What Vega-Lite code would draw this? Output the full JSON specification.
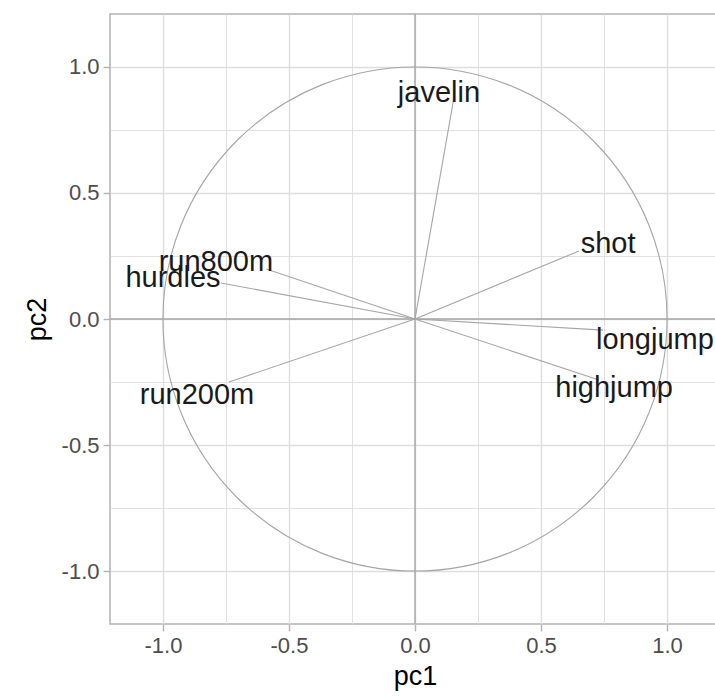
{
  "$schema": "https://vega.github.io/schema/vega-lite/v6.json",
  "width": 610,
  "height": 610,
  "autosize": {"type": "none"},
  "padding": {"left": 110, "top": 14, "right": 0, "bottom": 76},
  "background": "white",
  "config": {
    "view": {"stroke": "#b3b3b3", "strokeWidth": 1.5},
    "font": "Liberation Sans",
    "axis": {
      "domain": false,
      "grid": true,
      "gridColor": "#dedede",
      "gridWidth": {"condition": {"test": "abs(datum.value*4)%2==1", "value": 0.9}, "value": 1.4},
      "tickOpacity": {"condition": {"test": "abs(datum.value*4)%2==1", "value": 0}, "value": 1},
      "tickColor": "#b3b3b3",
      "tickWidth": 1.4,
      "tickSize": 7,
      "labelFont": "Liberation Sans",
      "labelFontSize": 22,
      "labelColor": "#4d4d4d",
      "labelPadding": 4,
      "labelFlush": false,
      "labelOverlap": false,
      "titleFont": "Liberation Sans",
      "titleFontSize": 27,
      "titleFontWeight": "normal",
      "titleColor": "#000000"
    },
    "axisX": {"titlePadding": 7},
    "axisY": {"titlePadding": 10}
  },
  "data": {
    "values": [
      {"variable": "javelin", "pc1": 0.155, "pc2": 0.881, "label_pc1": 0.095, "label_pc2": 0.897},
      {"variable": "shot", "pc1": 0.651, "pc2": 0.270, "label_pc1": 0.766, "label_pc2": 0.298},
      {"variable": "longjump", "pc1": 0.746, "pc2": -0.044, "label_pc1": 0.952, "label_pc2": -0.083},
      {"variable": "highjump", "pc1": 0.73, "pc2": -0.242, "label_pc1": 0.79, "label_pc2": -0.274},
      {"variable": "run200m", "pc1": -0.738, "pc2": -0.25, "label_pc1": -0.865, "label_pc2": -0.302},
      {"variable": "hurdles", "pc1": -0.77, "pc2": 0.143, "label_pc1": -0.96, "label_pc2": 0.163},
      {"variable": "run800m", "pc1": -0.59, "pc2": 0.198, "label_pc1": -0.79, "label_pc2": 0.226}
    ]
  },
  "layer": [
    {
      "data": {"values": [{"cx": 0, "cy": 0}]},
      "mark": {"type": "point", "shape": "circle", "filled": false, "size": 254157, "stroke": "#a6a6a6", "strokeWidth": 1.1, "opacity": 1},
      "encoding": {
        "x": {"field": "cx", "type": "quantitative", "title": "pc1",
              "scale": {"domain": [-1.21, 1.21], "nice": false, "zero": false},
              "axis": {"values": [-1, -0.75, -0.5, -0.25, 0, 0.25, 0.5, 0.75, 1],
                       "labelExpr": "abs(datum.value*4)%2==1 ? '' : (datum.value < 0 ? '-' : '') + format(abs(datum.value), '.1f')"}},
        "y": {"field": "cy", "type": "quantitative", "title": "pc2",
              "scale": {"domain": [-1.21, 1.21], "nice": false, "zero": false},
              "axis": {"values": [-1, -0.75, -0.5, -0.25, 0, 0.25, 0.5, 0.75, 1],
                       "labelExpr": "abs(datum.value*4)%2==1 ? '' : (datum.value < 0 ? '-' : '') + format(abs(datum.value), '.1f')"}}
      }
    },
    {
      "data": {"values": [{"cx": 0}]},
      "mark": {"type": "rule", "color": "#a6a6a6", "strokeWidth": 1.4},
      "encoding": {
        "x": {"field": "cx", "type": "quantitative"}
      }
    },
    {
      "data": {"values": [{"cy": 0}]},
      "mark": {"type": "rule", "color": "#a6a6a6", "strokeWidth": 1.4},
      "encoding": {
        "y": {"field": "cy", "type": "quantitative"}
      }
    },
    {
      "mark": {"type": "rule", "color": "#a6a6a6", "strokeWidth": 1.1},
      "encoding": {
        "x": {"field": "pc1", "type": "quantitative"},
        "y": {"field": "pc2", "type": "quantitative"},
        "x2": {"datum": 0},
        "y2": {"datum": 0}
      }
    },
    {
      "mark": {"type": "text", "fontSize": 29, "font": "Liberation Sans", "color": "#1a1a1a", "align": "center", "baseline": "middle"},
      "encoding": {
        "x": {"field": "label_pc1", "type": "quantitative"},
        "y": {"field": "label_pc2", "type": "quantitative"},
        "text": {"field": "variable"}
      }
    }
  ]
}
